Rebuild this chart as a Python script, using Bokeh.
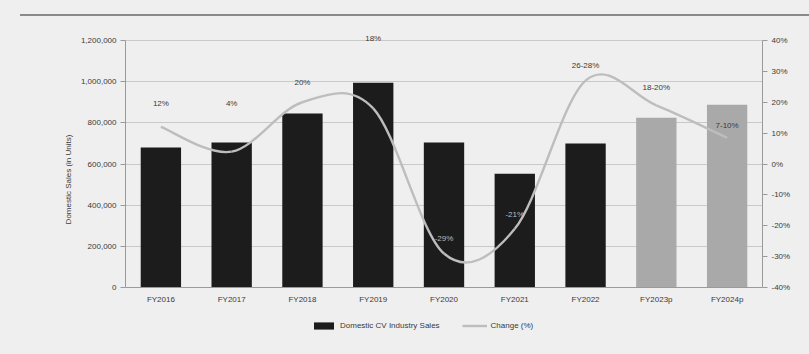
from bokeh.plotting import figure
from bokeh.models import (Range1d, LinearAxis, FixedTicker, NumeralTickFormatter,
                          PrintfTickFormatter, ColumnDataSource, Legend, LegendItem,
                          Span, Div, Title)
from bokeh.layouts import column
from bokeh.core.properties import value
from bokeh.embed import file_html
from bokeh.resources import INLINE

# Domestic CV industry sales and yearly change
years = ["FY2016", "FY2017", "FY2018", "FY2019", "FY2020", "FY2021", "FY2022", "FY2023p", "FY2024p"]
sales = [680000, 704000, 845000, 995000, 704000, 553000, 699000, 825000, 888000]
change = [12, 4, 20, 18, -29, -21, 27, 19, 8.5]
change_labels = ["12%", "4%", "20%", "18%", "-29%", "-21%", "26-28%", "18-20%", "7-10%"]
projected = [False, False, False, False, False, False, False, True, True]

left_ticks = [0, 200000, 400000, 600000, 800000, 1000000, 1200000]
right_ticks = [-40, -30, -20, -10, 0, 10, 20, 30, 40]

# label lift above each point of the change line, in pixels, and label ink
label_lift = [19, 44, 15, 65, 11, 10, 11, 13, 8]
label_ink = ["#3a3a3a"] * 4 + ["#bdbdbd", "#bdbdbd"] + ["#3a3a3a"] * 3

FONT = "Liberation Sans"
BG = "#efefef"
TXT = "#3a3a3a"
AXIS = "#9a9a9a"

# geometry: value axes span 247 px; the frame reaches 22 px above them
# (room for the top labels) and 53 px below (category labels and legend)
AX_PX, ABOVE_PX, BELOW_PX = 247, 22, 53
sales_max = 1200000
pct_lo, pct_hi = -40, 40
sales_lo = -sales_max * BELOW_PX / AX_PX
sales_hi = sales_max + sales_max * ABOVE_PX / AX_PX
pct_span = pct_hi - pct_lo
pct_lo_ext = pct_lo - pct_span * BELOW_PX / AX_PX
pct_hi_ext = pct_hi + pct_span * ABOVE_PX / AX_PX

idx = list(range(len(years)))
bar_colors = ["#a9a9a9" if p else "#1c1c1c" for p in projected]

p = figure(width=809, height=338, output_backend="svg", toolbar_location=None,
           x_range=Range1d(-0.5, len(years) - 0.5), y_range=Range1d(sales_lo, sales_hi),
           min_border_left=125, min_border_right=47, min_border_top=2, min_border_bottom=14)
p.background_fill_color = BG
p.border_fill_color = BG
p.outline_line_color = None
p.extra_y_ranges = {"pct": Range1d(pct_lo_ext, pct_hi_ext)}
p.xaxis.visible = False

p.ygrid.grid_line_color = "#c9c9c9"
p.ygrid.ticker = FixedTicker(ticks=left_ticks[1:])
p.xgrid.grid_line_color = None
p.add_layout(Span(location=0, dimension="width", line_color=AXIS, line_width=1))

bars = p.vbar(x=idx, top=sales, width=0.57, fill_color=bar_colors, line_color=None)

# smoothed change line, drawn as cubic Bezier segments through the points
n = len(change)
pts = list(zip(idx, change))
x0s, y0s, x1s, y1s, cx0s, cy0s, cx1s, cy1s = [], [], [], [], [], [], [], []
for i in range(n - 1):
    pm = pts[max(i - 1, 0)]
    p0 = pts[i]
    p1 = pts[i + 1]
    p2 = pts[min(i + 2, n - 1)]
    x0s.append(p0[0]); y0s.append(p0[1])
    x1s.append(p1[0]); y1s.append(p1[1])
    cx0s.append(p0[0] + (p1[0] - pm[0]) / 6.0)
    cy0s.append(p0[1] + (p1[1] - pm[1]) / 6.0)
    cx1s.append(p1[0] - (p2[0] - p0[0]) / 6.0)
    cy1s.append(p1[1] - (p2[1] - p0[1]) / 6.0)
line = p.bezier(x0=x0s, y0=y0s, x1=x1s, y1=y1s, cx0=cx0s, cy0=cy0s, cx1=cx1s, cy1=cy1s,
                line_color="#bdbdbd", line_width=2.4, y_range_name="pct")

lab_src = ColumnDataSource(dict(x=idx, y=change, text=change_labels,
                                dy=[-d for d in label_lift], ink=label_ink))
p.text(x="x", y="y", text="text", y_offset="dy", source=lab_src, y_range_name="pct",
       text_align="center", text_baseline="bottom", text_font_size="8px",
       text_color="ink", text_font=value(FONT))

# category labels under the zero line
cat_src = ColumnDataSource(dict(x=idx, y=[0] * len(idx), text=years))
p.text(x="x", y="y", text="text", source=cat_src, y_offset=7,
       text_align="center", text_baseline="top", text_font_size="8px",
       text_color=TXT, text_font=value(FONT))

# value axes
p.yaxis.ticker = FixedTicker(ticks=left_ticks)
p.yaxis.formatter = NumeralTickFormatter(format="0,0")
p.yaxis.bounds = (0, sales_max)

# vertical axis title, centred on the value axis rather than the whole frame
p.add_layout(Title(text="Domestic Sales (in Units)", align="center", offset=14,
                   text_font_size="8px", text_font_style="normal", text_font=FONT,
                   text_color=TXT, standoff=9), "left")

right = LinearAxis(y_range_name="pct", ticker=FixedTicker(ticks=right_ticks),
                   formatter=PrintfTickFormatter(format="%d%%"), bounds=(pct_lo, pct_hi))
p.add_layout(right, "right")

for ax in [p.yaxis[0], right]:
    ax.axis_line_color = AXIS
    ax.minor_tick_line_color = None
    ax.major_label_text_font_size = "8px"
    ax.major_label_text_font = FONT
    ax.major_label_text_color = TXT
    ax.major_tick_line_color = AXIS
    ax.major_tick_out = 5
    ax.major_tick_in = 0
    ax.major_label_standoff = 4

legend = Legend(items=[LegendItem(label="Domestic CV Industry Sales", renderers=[bars], index=0),
                       LegendItem(label="Change (%)", renderers=[line])],
                orientation="horizontal", location=(186, 10),
                background_fill_alpha=0, border_line_color=None,
                label_text_font_size="8px", label_text_font=FONT, label_text_color=TXT,
                glyph_width=25, glyph_height=9, label_height=9, spacing=22,
                padding=3, margin=0, label_standoff=4)
p.add_layout(legend, "center")

# page rule above the chart
rule = Div(text="", width=789, height=2, margin=(14, 0, 0, 20),
           styles={"background-color": "#8a8a8a"})
page = column(rule, p, spacing=0, styles={"background-color": BG})

open("out.html", "w").write(file_html(page, INLINE))
